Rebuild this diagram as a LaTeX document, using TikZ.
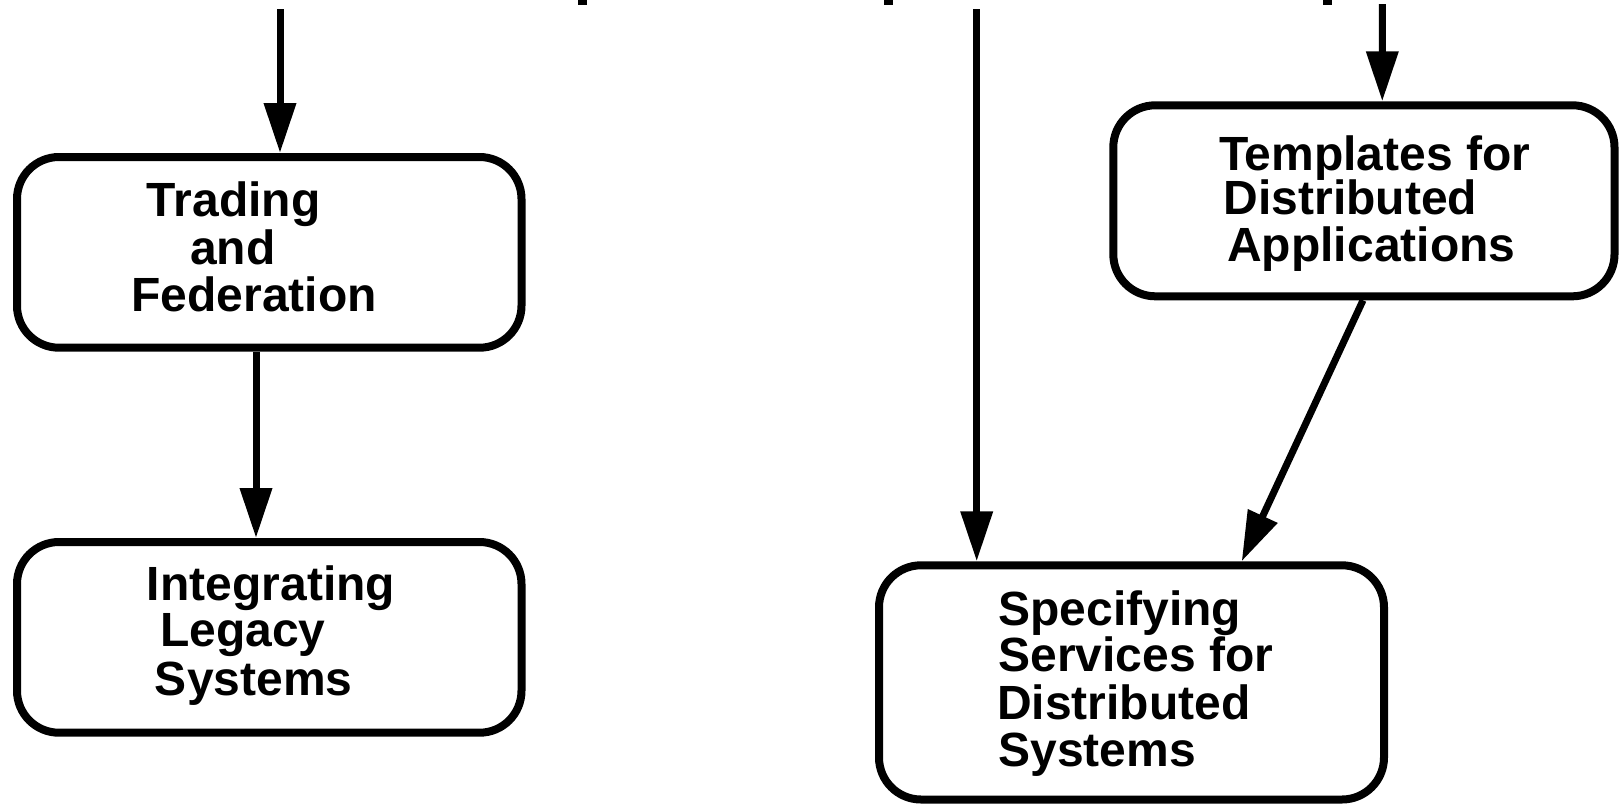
\documentclass[tikz,border=0pt]{standalone}
\usepackage{fontspec}
\setmainfont{Liberation Sans}
\usetikzlibrary{arrows.meta}
\newcommand\Ln[3]{\hbox to #1pt{\hskip#2pt\relax\smash{#3}\hfil}}
\tikzset{
  box/.style={draw, line width=8pt, rounded corners=42pt, inner sep=0pt,
    font=\fontsize{48}{48}\selectfont\bfseries},
  arr/.style={line width=7pt, -{Triangle[length=50pt,width=31pt]}},
  frag/.style={fill=black},
}
\begin{document}
\begin{tikzpicture}[x=1pt,y=-1pt]
\fill[white] (0,0) rectangle (1620,807);
\useasboundingbox (0,0) rectangle (1620,807);

% fragments of cut-off text at the top edge
\fill[frag] (578,0) rectangle (587,4.7);
\fill[frag] (884,0) rectangle (893,4.7);
\fill[frag] (1323,0) rectangle (1332,4.7);

\node[box, text height=59pt, text depth=131.7pt] (trading) at (269.25,252.35)
  {\vtop{\offinterlineskip
    \Ln{504.5}{130}{Trading}\kern48pt
    \Ln{504.5}{173}{and}\kern47pt
    \Ln{504.5}{114.6}{Federation}}};

\node[box, text height=58pt, text depth=132.7pt] (integrating) at (269.25,637.35)
  {\vtop{\offinterlineskip
    \Ln{504.5}{130}{Integrating}\kern46.7pt
    \Ln{504.5}{143}{Legacy}\kern48.3pt
    \Ln{504.5}{138}{Systems}}};

\node[box, text height=65.4pt, text depth=125.6pt] (templates) at (1363.9,200.8)
  {\vtop{\offinterlineskip
    \Ln{501.2}{105.7}{Templates for}\kern44pt
    \Ln{501.2}{110.6}{Distributed}\kern47pt
    \Ln{501.2}{114}{Applications}}};

\node[box, text height=59.7pt, text depth=174.5pt] (specifying) at (1131.5,682.4)
  {\vtop{\offinterlineskip
    \Ln{505}{119.5}{Specifying}\kern46.5pt
    \Ln{505}{119.5}{Services for}\kern47.5pt
    \Ln{505}{118.3}{Distributed}\kern47pt
    \Ln{505}{119.5}{Systems}}};

\coordinate (in1) at (280,9);
\coordinate (in3) at (976.7,9);
\coordinate (in4) at (1382.3,4);

\draw[arr] (in1) -- ([xshift=10.75pt]trading.north);
\draw[arr] ([xshift=-13.25pt]trading.south) -- ([xshift=-13.25pt]integrating.north);
\draw[arr] (in3) -- ([xshift=-154.8pt]specifying.north);
\draw[arr] (in4) -- ([xshift=18.4pt]templates.north);
\draw[arr] ([xshift=-0.9pt]templates.south) -- ([xshift=110.2pt]specifying.north);
\end{tikzpicture}
\end{document}
